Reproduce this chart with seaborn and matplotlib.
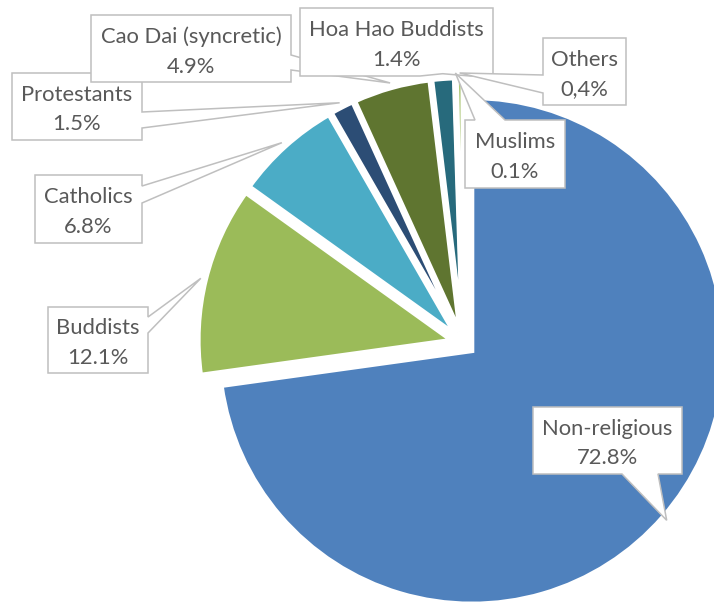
import numpy as np
import matplotlib
matplotlib.use("Agg")
import matplotlib.pyplot as plt
from matplotlib.patches import Polygon
import seaborn as sns

# religion shares (%), slices go clockwise from 12 o'clock
religions = ["Non-religious", "Buddists", "Catholics", "Protestants",
             "Cao Dai (syncretic)", "Hoa Hao Buddists", "Muslims", "Others"]
shares = [72.8, 12.1, 6.8, 1.5, 4.9, 1.4, 0.1, 0.4]
share_labels = ["72.8%", "12.1%", "6.8%", "1.5%", "4.9%", "1.4%", "0.1%", "0,4%"]
colors = ["#4F81BD", "#9BBB59", "#4BACC6", "#2C4D75",
          "#5F7530", "#276A7C", "#729ACA", "#AFC97A"]

W, H = 714, 602

# callout boxes in image pixels: (x0, y0, x1, y1), side of the pointer, pointer base
callouts = {
    "Non-religious": ((533, 407, 682, 474), "bottom", (622, 658)),
    "Buddists": ((48, 307, 148, 373), "right", (317, 333)),
    "Catholics": ((35, 175, 142, 243), "right", (186, 203)),
    "Protestants": ((12, 73, 142, 140), "right", (112, 128)),
    "Cao Dai (syncretic)": ((91, 15, 291, 82), "right", (55, 70)),
    "Hoa Hao Buddists": ((300, 8, 493, 76), "bottom", (420, 470)),
    "Muslims": ((465, 120, 565, 188), "top", (475, 505)),
    "Others": ((543, 38, 626, 105), "left", (75, 93)),
}

sns.set_theme(style="white")
plt.rcParams["font.family"] = ["Lato", "DejaVu Sans"]

fig = plt.figure(figsize=(W / 100, H / 100), dpi=100)
ax = fig.add_axes([0, 0, 1, 1])

radius = 253
center = (463, H - 343)
wedges, _ = ax.pie(shares, colors=colors, startangle=90, counterclock=False,
                   radius=radius, center=center,
                   explode=[12] * len(shares),
                   wedgeprops=dict(edgecolor="white", linewidth=3.25))
ax.set_xlim(0, W)
ax.set_ylim(0, H)
ax.set_aspect("equal")
ax.axis("off")


def callout_points(box, side, base, tip):
    x0, y0, x1, y1 = box
    a, b = base
    pts = [(x0, y0)]
    if side == "top":
        pts += [(a, y0), tip, (b, y0)]
    pts.append((x1, y0))
    if side == "right":
        pts += [(x1, a), tip, (x1, b)]
    pts.append((x1, y1))
    if side == "bottom":
        pts += [(b, y1), tip, (a, y1)]
    pts.append((x0, y1))
    if side == "left":
        pts += [(x0, b), tip, (x0, a)]
    return pts


for i, (name, pct, w) in enumerate(zip(religions, share_labels, wedges)):
    box, side, base = callouts[name]
    # pointer tip just outside the slice rim, at its middle angle
    mid = np.deg2rad((w.theta1 + w.theta2) / 2)
    cx, cy = w.center
    tip = (cx + 1.02 * w.r * np.cos(mid), H - (cy + 1.02 * w.r * np.sin(mid)))
    pts = callout_points(box, side, base, tip)
    pts = [(x, H - y) for x, y in pts]
    ax.add_patch(Polygon(pts, closed=True, facecolor="white", edgecolor="#BFBFBF",
                         linewidth=1.1, joinstyle="miter", zorder=3 + 2 * i))
    ax.text((box[0] + box[2]) / 2, H - (box[1] + box[3]) / 2 - 3, f"{name}\n{pct}",
            ha="center", va="center", color="#595959", fontsize=15.8,
            linespacing=1.6, zorder=4 + 2 * i)

fig.savefig("out.png", dpi=100)
